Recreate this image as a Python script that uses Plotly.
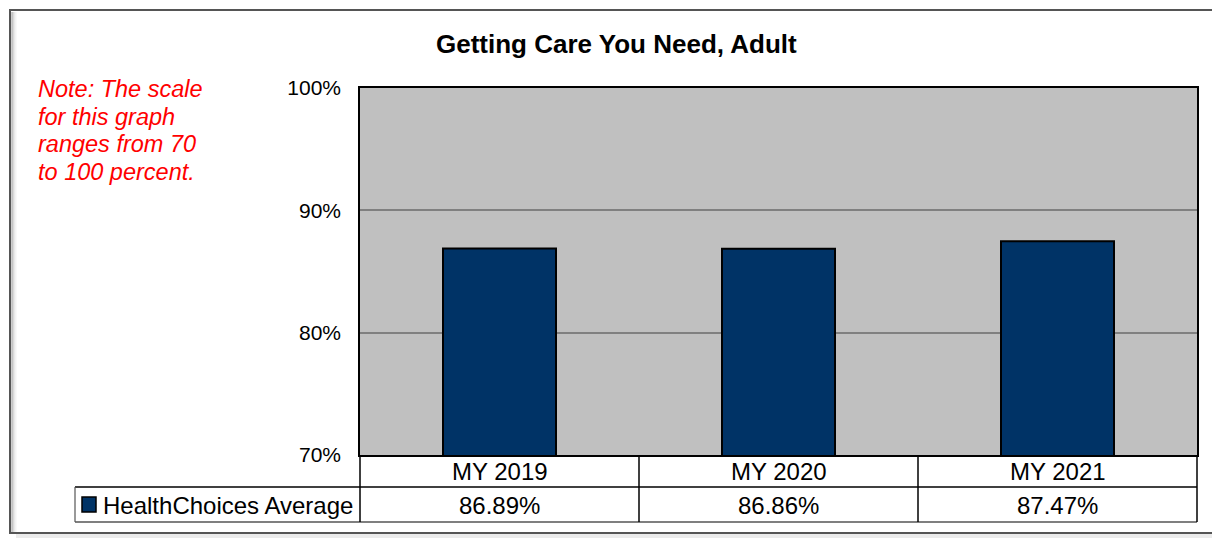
import plotly.graph_objects as go

# ---- data ----
categories = ["MY 2019", "MY 2020", "MY 2021"]
values = [86.89, 86.86, 87.47]
series_name = "HealthChoices Average"
tick_vals = [70, 80, 90, 100]
tick_text = ["70%", "80%", "90%", "100%"]
title_text = "Getting Care You Need, Adult"
note_lines = ["Note: The scale", "for this graph", "ranges from 70", "to 100 percent."]

W, H = 1212, 538
L, R, T, B = 360, 1197, 88, 455  # plot area in pixels
FONT = "Liberation Sans, Arial, sans-serif"
NAVY = "#003366"


def px(x):
    return (x - L) / (R - L)


def py(y):
    return (B - y) / (B - T)


fig = go.Figure()
fig.add_trace(go.Bar(
    x=categories, y=values, name=series_name, width=0.405,
    marker=dict(color=NAVY, line=dict(color="black", width=2)),
    showlegend=False, hoverinfo="skip",
))

shapes = []
# outer frame
shapes.append(dict(type="rect", xref="paper", yref="paper", x0=px(10), x1=px(1240), y0=py(533), y1=py(10),
                   line=dict(color="#555555", width=2), layer="below"))
for i, c in enumerate(["#9a9a9a", "#bdbdbd", "#d6d6d6", "#e8e8e8", "#f3f3f3"]):
    shapes.append(dict(type="line", xref="paper", yref="paper", x0=px(12 + i), x1=px(12 + i), y0=py(532), y1=py(12),
                       line=dict(color=c, width=1), layer="below"))
shapes.append(dict(type="rect", xref="paper", yref="paper", x0=px(16), x1=px(1240), y0=py(540), y1=py(534),
                   fillcolor="#ebebeb", line=dict(width=0), layer="below"))

# table lines
line_k = dict(color="black", width=1.5)
shapes.append(dict(type="line", xref="paper", yref="paper", x0=px(75), x1=px(R), y0=py(487), y1=py(487), line=line_k))
shapes.append(dict(type="line", xref="paper", yref="paper", x0=px(75), x1=px(R), y0=py(522), y1=py(522), line=dict(color="#555555", width=1.5)))
shapes.append(dict(type="line", xref="paper", yref="paper", x0=px(75), x1=px(75), y0=py(487), y1=py(522), line=dict(color="#555555", width=1.2)))
n = len(categories)
for k in range(n + 1):
    xx = L + (R - L) * k / n
    shapes.append(dict(type="line", xref="paper", yref="paper", x0=px(xx), x1=px(xx), y0=py(B), y1=py(522), line=line_k))
# legend key
shapes.append(dict(type="rect", xref="paper", yref="paper", x0=px(82), x1=px(96), y0=py(512), y1=py(497),
                   fillcolor=NAVY, line=dict(color="black", width=1.5)))

annotations = []
annotations.append(dict(text="<b>" + title_text + "</b>", xref="paper", yref="paper", x=px(616), y=py(44),
                        showarrow=False, font=dict(family=FONT, size=26, color="black"),
                        xanchor="center", yanchor="middle"))
for i, ln in enumerate(note_lines):
    annotations.append(dict(text="<i>" + ln + "</i>", xref="paper", yref="paper",
                            x=px(36), y=py(89 + 27.5 * i), showarrow=False, align="left",
                            font=dict(family=FONT, size=23.5, color="#FF0000"), xanchor="left", yanchor="middle"))
for c, v in zip(categories, values):
    annotations.append(dict(text=c, xref="x", yref="paper", x=c, y=py(471), showarrow=False,
                            font=dict(family=FONT, size=24, color="black"), xanchor="center", yanchor="middle"))
    annotations.append(dict(text=f"{v:.2f}%", xref="x", yref="paper", x=c, y=py(505), showarrow=False,
                            font=dict(family=FONT, size=24, color="black"), xanchor="center", yanchor="middle"))
annotations.append(dict(text=series_name, xref="paper", yref="paper", x=px(101), y=py(505), showarrow=False,
                        font=dict(family=FONT, size=24, color="black"), xanchor="left", yanchor="middle"))

fig.update_layout(
    width=W, height=H, autosize=False,
    margin=dict(l=L, r=W - R, t=T, b=H - B, pad=0),
    paper_bgcolor="white", plot_bgcolor="#C0C0C0",
    font=dict(family=FONT, size=21, color="black"),
    shapes=shapes, annotations=annotations,
    xaxis=dict(showticklabels=False, ticks="", showgrid=False, showline=True, mirror=True,
               linecolor="black", linewidth=1.5, zeroline=False, fixedrange=True),
    yaxis=dict(range=[70, 100], tickvals=tick_vals, ticktext=tick_text, ticks="",
               showgrid=True, gridcolor="#808080", gridwidth=1.5, zeroline=False,
               showline=True, mirror=True, linecolor="black", linewidth=1.5,
               ticklabelstandoff=13, tickfont=dict(family=FONT, size=21, color="black"), fixedrange=True),
    showlegend=False,
)

fig.write_html("out.html", config={"displayModeBar": False, "responsive": False},
               post_script="document.body.style.margin='0';")
